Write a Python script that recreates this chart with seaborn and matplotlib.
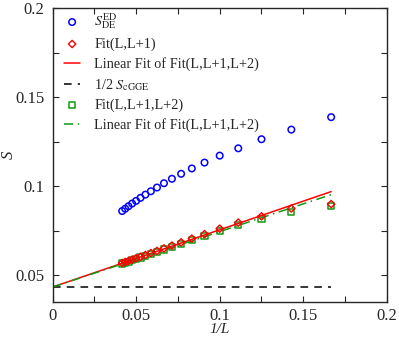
import numpy as np
import matplotlib
matplotlib.use("Agg")
import matplotlib.pyplot as plt
import seaborn as sns

# valores
L_vals = np.array([6, 7, 8, 9, 10, 11, 12, 13, 14, 15, 16, 17, 18, 19, 20, 21, 22, 23, 24])
inv_L = 1.0 / L_vals

s_ed = [0.1388, 0.1318, 0.1264, 0.1213, 0.1172, 0.1133, 0.1100, 0.1070, 0.1042, 0.1017,
        0.0993, 0.0972, 0.0953, 0.0935, 0.0918, 0.0903, 0.0888, 0.0874, 0.0861]
fit_l1 = [0.0900, 0.0875, 0.0831, 0.0796, 0.0762, 0.0731, 0.0706, 0.0685, 0.0667, 0.0651,
          0.0637, 0.0625, 0.0614, 0.0604, 0.0596, 0.0588, 0.0581, 0.0575, 0.0569]
fit_l2 = [0.0888, 0.0854, 0.0815, 0.0781, 0.0749, 0.0720, 0.0697, 0.0677, 0.0660, 0.0645,
          0.0632, 0.0620, 0.0610, 0.0600, 0.0592, 0.0584, 0.0577, 0.0571, 0.0566]

# extremos de las rectas
x_line = [0.0, 1.0 / 6]
lin_fit_l1 = [0.0434, 0.0970]
lin_fit_l2 = [0.0434, 0.0953]
s_cgge_half = [0.0434, 0.0434]

sns.set_style("ticks")
plt.rcParams['font.family'] = ['Liberation Serif', 'DejaVu Serif']
plt.rcParams['mathtext.fontset'] = 'stix'
plt.rcParams['font.size'] = 11

fig = plt.figure(figsize=(3.99, 3.39), dpi=100)
ax = fig.add_axes([0.1316, 0.109, 0.838, 0.867])

verde = '#109a10'

sns.scatterplot(x=inv_L, y=s_ed, ax=ax, marker='o', s=22, facecolor='none',
                edgecolor='blue', linewidth=1.1, label=r'$S_{\rm DE}^{\rm ED}$')
sns.scatterplot(x=inv_L, y=fit_l1, ax=ax, marker='D', s=14, facecolor='none',
                edgecolor='red', linewidth=1.0, label='Fit(L,L+1)', zorder=4)
sns.lineplot(x=x_line, y=lin_fit_l1, ax=ax, color='red', linewidth=1.1,
             label='Linear Fit of Fit(L,L+1,L+2)')
sns.lineplot(x=x_line, y=s_cgge_half, ax=ax, color='black', linewidth=1.1,
             linestyle=(0, (5, 4)), label=r'1/2 $S_{\rm cGGE}$')
sns.scatterplot(x=inv_L, y=fit_l2, ax=ax, marker='s', s=20, facecolor='none',
                edgecolor=verde, linewidth=1.1, label='Fit(L,L+1,L+2)')
sns.lineplot(x=x_line, y=lin_fit_l2, ax=ax, color=verde, linewidth=1.1,
             linestyle=(0, (6, 3, 1, 3)), label='Linear Fit of Fit(L,L+1,L+2)')

ax.set_xlim(0, 0.2)
ax.set_ylim(0.035, 0.2)
ax.set_xticks([0, 0.05, 0.1, 0.15, 0.2])
ax.set_xticklabels(['0', '0.05', '0.1', '0.15', '0.2'])
ax.set_yticks([0.05, 0.1, 0.15, 0.2])
ax.set_yticklabels(['0.05', '0.1', '0.15', '0.2'])
ax.set_xticks([0.025, 0.075, 0.125, 0.175], minor=True)
ax.set_yticks([0.075, 0.125, 0.175], minor=True)
ax.tick_params(which='both', direction='in', top=True, right=True, length=4, width=0.8,
               labelsize=12, pad=6)
ax.tick_params(axis='x', which='both', pad=4)
for sp in ax.spines.values():
    sp.set_linewidth(1.0)

ax.set_xlabel('1/L', fontstyle='italic', fontsize=11)
ax.set_ylabel('S', fontstyle='italic', fontsize=12)
ax.xaxis.set_label_coords(0.5, -0.095)
ax.yaxis.set_label_coords(-0.13, 0.5)
ax.xaxis.label.set_va('center')
ax.yaxis.label.set_va('center')

ax.legend(loc='upper left', frameon=False, fontsize=10.3, handlelength=1.1,
          handletextpad=1.0, labelspacing=0.42, borderaxespad=0.42,
          bbox_to_anchor=(0.0, 1.028))

fig.savefig('out.png', dpi=100)
